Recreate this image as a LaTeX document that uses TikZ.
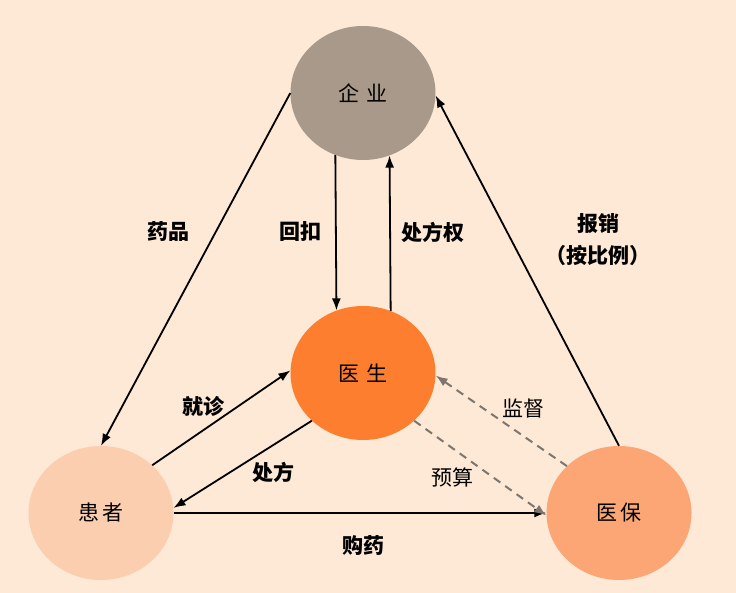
\documentclass[tikz,border=0pt]{standalone}
\usepackage{fontspec}
\newfontfamily\cjk{Noto Sans CJK SC}
\usetikzlibrary{arrows.meta,shapes.geometric}
\definecolor{bg}{RGB}{253,233,214}
\definecolor{cqy}{RGB}{168,153,139}
\definecolor{cys}{RGB}{253,126,47}
\definecolor{chz}{RGB}{252,206,176}
\definecolor{cyb}{RGB}{251,166,116}
\definecolor{dashc}{RGB}{125,118,110}
\begin{document}
\begin{tikzpicture}[x=1pt,y=-1pt,
  ell/.style={ellipse,minimum width=145pt,minimum height=134pt,inner sep=0pt,font=\cjk\fontsize{21}{24}\selectfont},
  lab/.style={font=\cjk\bfseries\fontsize{21}{24}\selectfont,inner sep=0pt},
  labr/.style={font=\cjk\fontsize{21}{24}\selectfont,inner sep=0pt},
  arr/.style={line width=1.8pt,-{Latex[length=12pt,width=9pt]}},
  darr/.style={line width=2pt,dashc,dash pattern=on 8pt off 6pt,-{Latex[length=12pt,width=9pt]}}]
\fill[bg] (0,0) rectangle (736,593);
\useasboundingbox (0,0) rectangle (736,593);
\node[ell,fill=cqy] (qy) at (363,93) {企\hspace{0.3em}业};
\node[ell,fill=cys] (ys) at (363,373) {医\hspace{0.3em}生};
\node[ell,fill=chz] (hz) at (101,513) {患\hspace{0.1em}者};
\node[ell,fill=cyb] (yb) at (619,513) {医\hspace{0.1em}保};
\draw[arr] (qy.west) -- (hz.north);
\draw[arr] (qy.246.5) -- (ys.113.5);
\draw[arr] (ys.66.5) -- (qy.293.5);
\draw[arr] (yb.north) -- (qy.358);
\draw[arr] (hz.43) -- (ys.178);
\draw[arr] (ys.223) -- (hz.4);
\draw[arr] (hz.east) -- (yb.west);
\draw[darr] (yb.138) -- (ys.358);
\draw[darr] (ys.317) -- (yb.182);
\node[lab] (l1) at (168,232) {药品};
\node[lab] (l2) at (300,232) {回扣};
\node[lab] (l3) at (433,232) {处方权};
\node[lab] (l4) at (598,224) {报销};
\node[lab] (l5) at (598,256) {（按比例）};
\node[lab] (l6) at (203,406) {就诊};
\node[lab] (l7) at (273,472) {处方};
\node[lab] (l8) at (363,545) {购药};
\node[labr] (l9) at (523,408) {监督};
\node[labr] (l10) at (452,477) {预算};
\end{tikzpicture}
\end{document}
